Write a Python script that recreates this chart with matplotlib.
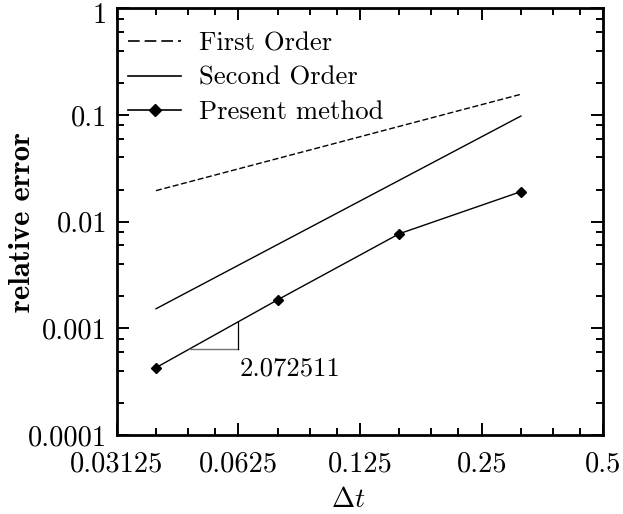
import numpy as np
import matplotlib
matplotlib.use("Agg")
import matplotlib.pyplot as plt
from matplotlib.lines import Line2D
from matplotlib.transforms import ScaledTranslation
from matplotlib.ticker import FixedLocator, LogLocator, NullFormatter

# data
dt = [0.0390625, 0.078125, 0.15625, 0.3125]
err_present = [0.000428, 0.00185, 0.0077, 0.0191]
err_first = [0.01953, 0.03906, 0.07813, 0.15625]
err_second = [0.001526, 0.006104, 0.02441, 0.09766]

x_ticks = [0.03125, 0.0625, 0.125, 0.25, 0.5]
x_labels = ["0.03125", "0.0625", "0.125", "0.25", "0.5"]
y_ticks = [0.0001, 0.001, 0.01, 0.1, 1]
y_labels = ["0.0001", "0.001", "0.01", "0.1", "1"]

legend_labels = ['First Order', 'Second Order', 'Present method']
slope_text = "2.072511"
tri_x = [0.0472, 0.0625]

plt.rcParams['font.family'] = 'cmr10'
plt.rcParams['mathtext.fontset'] = 'cm'
plt.rcParams['axes.unicode_minus'] = False

fig = plt.figure(figsize=(6.23, 5.14), dpi=100)
ax = fig.add_axes([0.1876, 0.1537, 0.9684 - 0.1876, 0.9839 - 0.1537])

ax.plot(dt, err_first, color='k', lw=1.0, dashes=(4.3, 1.9))
ax.plot(dt, err_second, color='k', lw=1.0)
ax.plot(dt, err_present, color='k', lw=1.0, marker='D', ms=5.5)

# slope triangle under the present-method line
lx = np.log(dt)
ly = np.log(err_present)
tri_y = np.exp(np.interp(np.log(tri_x), lx, ly))
ax.plot(tri_x, [tri_y[0], tri_y[0]], color='0.45', lw=1.0)
ax.plot([tri_x[1], tri_x[1]], [tri_y[0], tri_y[1]], color='k', lw=0.9)
ax.text(tri_x[1] * 1.007, 0.000417, slope_text, fontsize=19.2, ha='left', va='center')

ax.set_xscale('log', base=2)
ax.set_yscale('log')
ax.set_xlim(x_ticks[0], x_ticks[-1])
ax.set_ylim(y_ticks[0], y_ticks[-1])

ax.xaxis.set_major_locator(FixedLocator(x_ticks))
ax.set_xticklabels(x_labels)
ax.xaxis.set_minor_locator(LogLocator(base=2, subs=(1.25, 1.5, 1.75)))
ax.xaxis.set_minor_formatter(NullFormatter())
ax.yaxis.set_major_locator(FixedLocator(y_ticks))
ax.set_yticklabels(y_labels)
ax.yaxis.set_minor_locator(LogLocator(base=10, subs=(2, 4, 6, 8)))
ax.yaxis.set_minor_formatter(NullFormatter())

ax.tick_params(which='both', direction='in', top=True, right=True, labelsize=20.5)
ax.tick_params(which='major', length=8.5, width=1.4)
ax.tick_params(which='minor', length=5, width=1.4)
ax.tick_params(axis='x', which='major', pad=12)
ax.tick_params(axis='y', which='major', pad=7)
for s in ax.spines.values():
    s.set_linewidth(2.0)

# top label "1" sits a touch lower so it is not clipped by the figure edge
top_lbl = ax.yaxis.get_major_ticks()[-1].label1
top_lbl.set_transform(top_lbl.get_transform() + ScaledTranslation(0, -3 / 72, fig.dpi_scale_trans))

ax.set_xlabel(r'$\Delta t$', fontsize=20)
ax.xaxis.set_label_coords(0.475, -0.12)
ax.set_ylabel('relative error', fontsize=22, family='cmb10')
ax.yaxis.set_label_coords(-0.166, 0.5)

# legend keys drawn a bit larger than the curves, as in the original
handles = [Line2D([], [], color='k', lw=1.2, dashes=(7, 3)),
           Line2D([], [], color='k', lw=1.2),
           Line2D([], [], color='k', lw=1.2, marker='D', ms=6)]
ax.legend(handles, legend_labels, loc='upper left', bbox_to_anchor=(0.023, 0.945),
          frameon=False, fontsize=19.2, borderpad=0, borderaxespad=0,
          handlelength=2.0, handletextpad=0.65, labelspacing=0.4)

fig.savefig('out.png', dpi=100)
